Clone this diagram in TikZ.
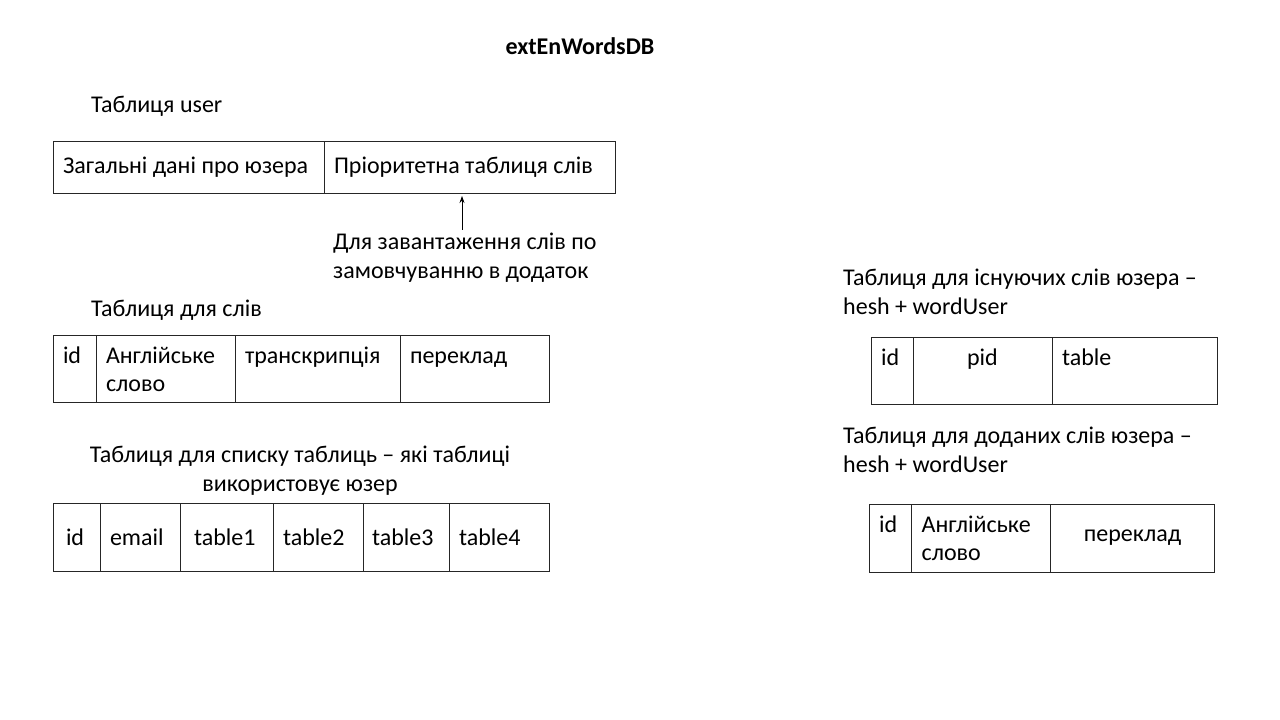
\documentclass[tikz,border=0pt]{standalone}
\usepackage{fontspec}
\setmainfont{Carlito}
\usepackage{tikz}
\usetikzlibrary{arrows.meta, positioning}

\begin{document}
\begin{tikzpicture}[
    x=1pt, y=-1pt,
    font=\fontsize{24}{28.3}\selectfont,
    cell/.style={
        draw=black!85,
        line width=0.9pt,
        text width=#1,
        inner xsep=10pt,
        inner ysep=0pt,
        outer sep=0pt,
        align=flush left
    },
    toprow/.style={text height=28pt, text depth=39pt},
    tcaption/.style={anchor=base west, inner sep=0pt, align=flush left},
    arrow/.style={-{Stealth[length=7pt, width=5pt]}, line width=0.7pt}
]
    \useasboundingbox (0,0) rectangle (1280,720);

    % Title
    \node[font=\fontsize{24}{28}\selectfont\bfseries, anchor=base, inner sep=0pt]
        (title) at (580,54) {extEnWordsDB};

    % Table user
    \node[tcaption] (capuser) at (91,112) {Таблиця user};
    \node[cell=251, minimum height=52, anchor=north west] (user1) at (53,141)
        {Загальні дані про юзера};
    \node[cell=271, minimum height=52, right=0pt of user1] (user2)
        {Пріоритетна таблиця слів};
    \node[tcaption] (note) at (333,278)
        {Для завантаження слів по\\замовчуванню в додаток};
    \coordinate (tip) at (462,0);
    \draw[arrow] ([yshift=3pt]note.north -| tip) -- ([yshift=-3pt]user2.south -| tip);

    % Table words
    \node[tcaption] (capwords) at (91,316) {Таблиця для слів};
    \node[cell=23, toprow, anchor=north west] (words1) at (53,335) {id};
    \node[cell=119, toprow, right=0pt of words1] (words2) {Англійське\\слово};
    \node[cell=145, toprow, right=0pt of words2] (words3) {транскрипція};
    \node[cell=129, toprow, right=0pt of words3] (words4) {переклад};

    % Table lists
    \node[anchor=base, align=center, inner sep=0pt] (caplists) at (300,491)
        {Таблиця для списку таблиць – які таблиці\\використовує юзер};
    \node[cell=21, inner xsep=13pt, minimum height=68, anchor=north west] (lists1) at (53,503) {id};
    \node[cell=60, minimum height=68, right=0pt of lists1] (lists2) {email};
    \node[cell=65, inner xsep=14pt, minimum height=68, right=0pt of lists2] (lists3) {table1};
    \node[cell=70, minimum height=68, right=0pt of lists3] (lists4) {table2};
    \node[cell=68, inner xsep=9pt, minimum height=68, right=0pt of lists4] (lists5) {table3};
    \node[cell=80, minimum height=68, right=0pt of lists5] (lists6) {table4};

    % Table existing words
    \node[tcaption] (capexist) at (843,314)
        {Таблиця для існуючих слів юзера –\\hesh + wordUser};
    \node[cell=22, toprow, anchor=north west] (exist1) at (871,337) {id};
    \node[cell=119, toprow, align=center, right=0pt of exist1] (exist2) {pid};
    \node[cell=145, toprow, right=0pt of exist2] (exist3) {table};

    % Table added words
    \node[tcaption] (capadded) at (843,472)
        {Таблиця для доданих слів юзера –\\hesh + wordUser};
    \node[cell=22.7, toprow, text depth=40pt, anchor=north west] (added1) at (869,504) {id};
    \node[cell=119, toprow, text depth=40pt, right=0pt of added1] (added2) {Англійське\\слово};
    \node[cell=143.6, minimum height=68, align=center, right=0pt of added2] (added3) {переклад};

\end{tikzpicture}
\end{document}
